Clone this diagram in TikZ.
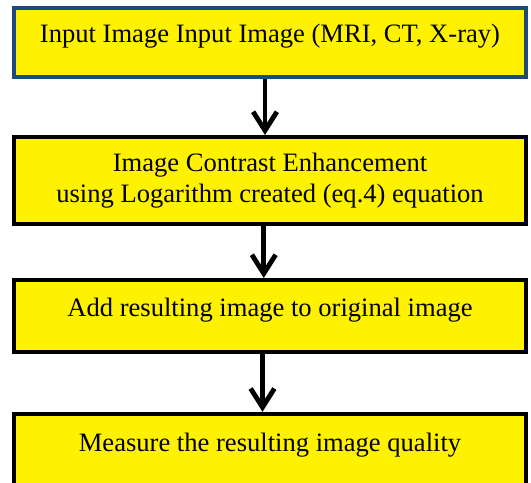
\documentclass[tikz,border=0pt]{standalone}
\usepackage{fontspec}
\setmainfont{Liberation Serif}
\usepackage{xcolor}
\usepackage{tikz}
\usetikzlibrary{arrows.meta}

\definecolor{boxblue}{RGB}{31,73,125}

\begin{document}
\begin{tikzpicture}[auto, font=\fontsize{12.1}{13.9}\selectfont]
		\tikzstyle{block} = [draw=black, fill=yellow, rectangle, line width=1.8pt, minimum width=8.192cm, inner sep=0pt, align=center]
		\tikzstyle{oneline} = [text height=0.4cm, text depth=0.4cm]
		\tikzstyle{arrow} = [line width=2.2pt, -{Straight Barb[length=0.3cm, width=0.38cm]}]
		
		\useasboundingbox (0,0) rectangle (8.496,-7.712);
		\clip (0,0) rectangle (8.496,-7.712);
		
		\node[block, oneline, draw=boxblue, minimum height=1.104cm]	at (4.32, -0.68)	(inp)	{Input Image Input Image (MRI, CT, X-ray)};
		\node[block, minimum height=1.392cm]	at (4.32, -2.888)	(enh)	{Image Contrast Enhancement \\
																		 using Logarithm created (eq.4) equation};
		\node[block, oneline, minimum height=1.152cm]	at (4.32, -5.056)	(add)	{Add resulting image to original image};
		\node[block, oneline, minimum height=1.2cm]	at (4.32, -7.22)	(qual)	{Measure the resulting image quality};
		
		\draw [arrow] ([xshift=-0.08cm]inp.south) -- ([xshift=-0.08cm]enh.north);
		\draw [arrow] ([xshift=-0.1cm]enh.south) -- ([xshift=-0.1cm]add.north);
		\draw [arrow] ([xshift=-0.12cm]add.south) -- ([xshift=-0.12cm]qual.north);
	\end{tikzpicture}
\end{document}
